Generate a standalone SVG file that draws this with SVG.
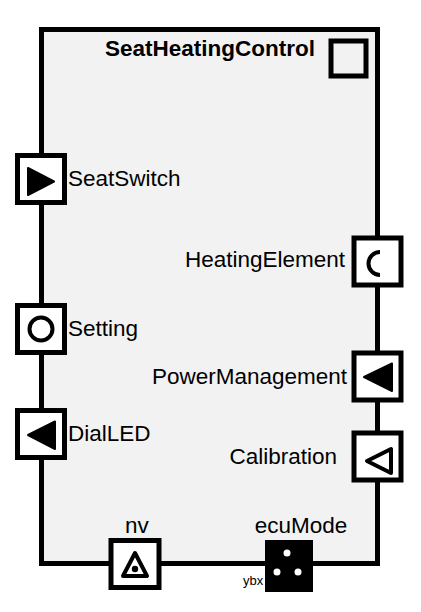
<svg xmlns="http://www.w3.org/2000/svg" width="421" height="612" viewBox="0 0 421 612">
<style>
.frame{fill:#f2f2f2;stroke:#000;stroke-width:5}
.port{fill:#fff;stroke:#000;stroke-width:5}
.lbl{font-family:"Liberation Sans",Arial,sans-serif;font-size:22.5px;fill:#000}
.title{font-family:"Liberation Sans",Arial,sans-serif;font-size:22.5px;font-weight:bold;fill:#000}
.fill{fill:#000;stroke:#000;stroke-width:2;stroke-linejoin:round}
.out{fill:none;stroke:#000;stroke-width:4;stroke-linejoin:round}
</style>
<rect width="421" height="612" fill="#fff"/>
<g id="SeatHeatingControl">
<rect class="frame" x="41.5" y="29.5" width="336" height="534"/>
<text class="title" x="210" y="56" text-anchor="middle">SeatHeatingControl</text>
<rect x="331" y="41" width="35" height="35" fill="none" stroke="#000" stroke-width="5"/>
</g>
<g id="connectors"></g>
<g id="SeatSwitch">
<rect class="port" x="17.5" y="155.5" width="47" height="47"/>
<polygon class="fill" points="28,168 54,181.5 28,195"/>
<text class="lbl" x="68" y="186">SeatSwitch</text>
</g>
<g id="HeatingElement">
<rect class="port" x="354" y="238" width="47" height="47"/>
<path class="out" d="M380,252 A11.5,11.5 0 0 0 380,275" stroke-linejoin="miter"/>
<text class="lbl" x="345" y="267" text-anchor="end">HeatingElement</text>
</g>
<g id="Setting">
<rect class="port" x="17.5" y="305.5" width="47" height="47"/>
<circle cx="41" cy="329" r="11.5" fill="none" stroke="#000" stroke-width="4"/>
<text class="lbl" x="68" y="336">Setting</text>
</g>
<g id="PowerManagement">
<rect class="port" x="354" y="353" width="47" height="47"/>
<polygon class="fill" points="364,377 392,363.5 392,391"/>
<text class="lbl" x="347" y="384" text-anchor="end">PowerManagement</text>
</g>
<g id="DialLED">
<rect class="port" x="17.5" y="410.5" width="47" height="47"/>
<polygon class="fill" points="28,435 55,421.5 55,449"/>
<text class="lbl" x="68" y="441">DialLED</text>
</g>
<g id="Calibration">
<rect class="port" x="354" y="433" width="47" height="47"/>
<polygon class="out" points="367,461 391,449 391,473"/>
<text class="lbl" x="337" y="464" text-anchor="end">Calibration</text>
</g>
<g id="nv">
<rect class="port" x="111" y="540.5" width="48" height="47"/>
<polygon class="out" points="135,553 147,576 123,576"/>
<circle cx="135" cy="569" r="3.2" fill="#000"/>
<text class="lbl" x="137" y="533" text-anchor="middle">nv</text>
</g>
<g id="ecuMode">
<text x="243" y="585" font-family="Liberation Sans,Arial,sans-serif" font-size="13" fill="#000">ybx</text>
<rect x="265" y="540" width="48" height="52" fill="#000"/>
<circle cx="287" cy="553" r="3.5" fill="#fff"/>
<circle cx="277" cy="572" r="3.5" fill="#fff"/>
<circle cx="298" cy="572" r="3.5" fill="#fff"/>
<text class="lbl" x="301" y="533" text-anchor="middle">ecuMode</text>
</g>
</svg>
